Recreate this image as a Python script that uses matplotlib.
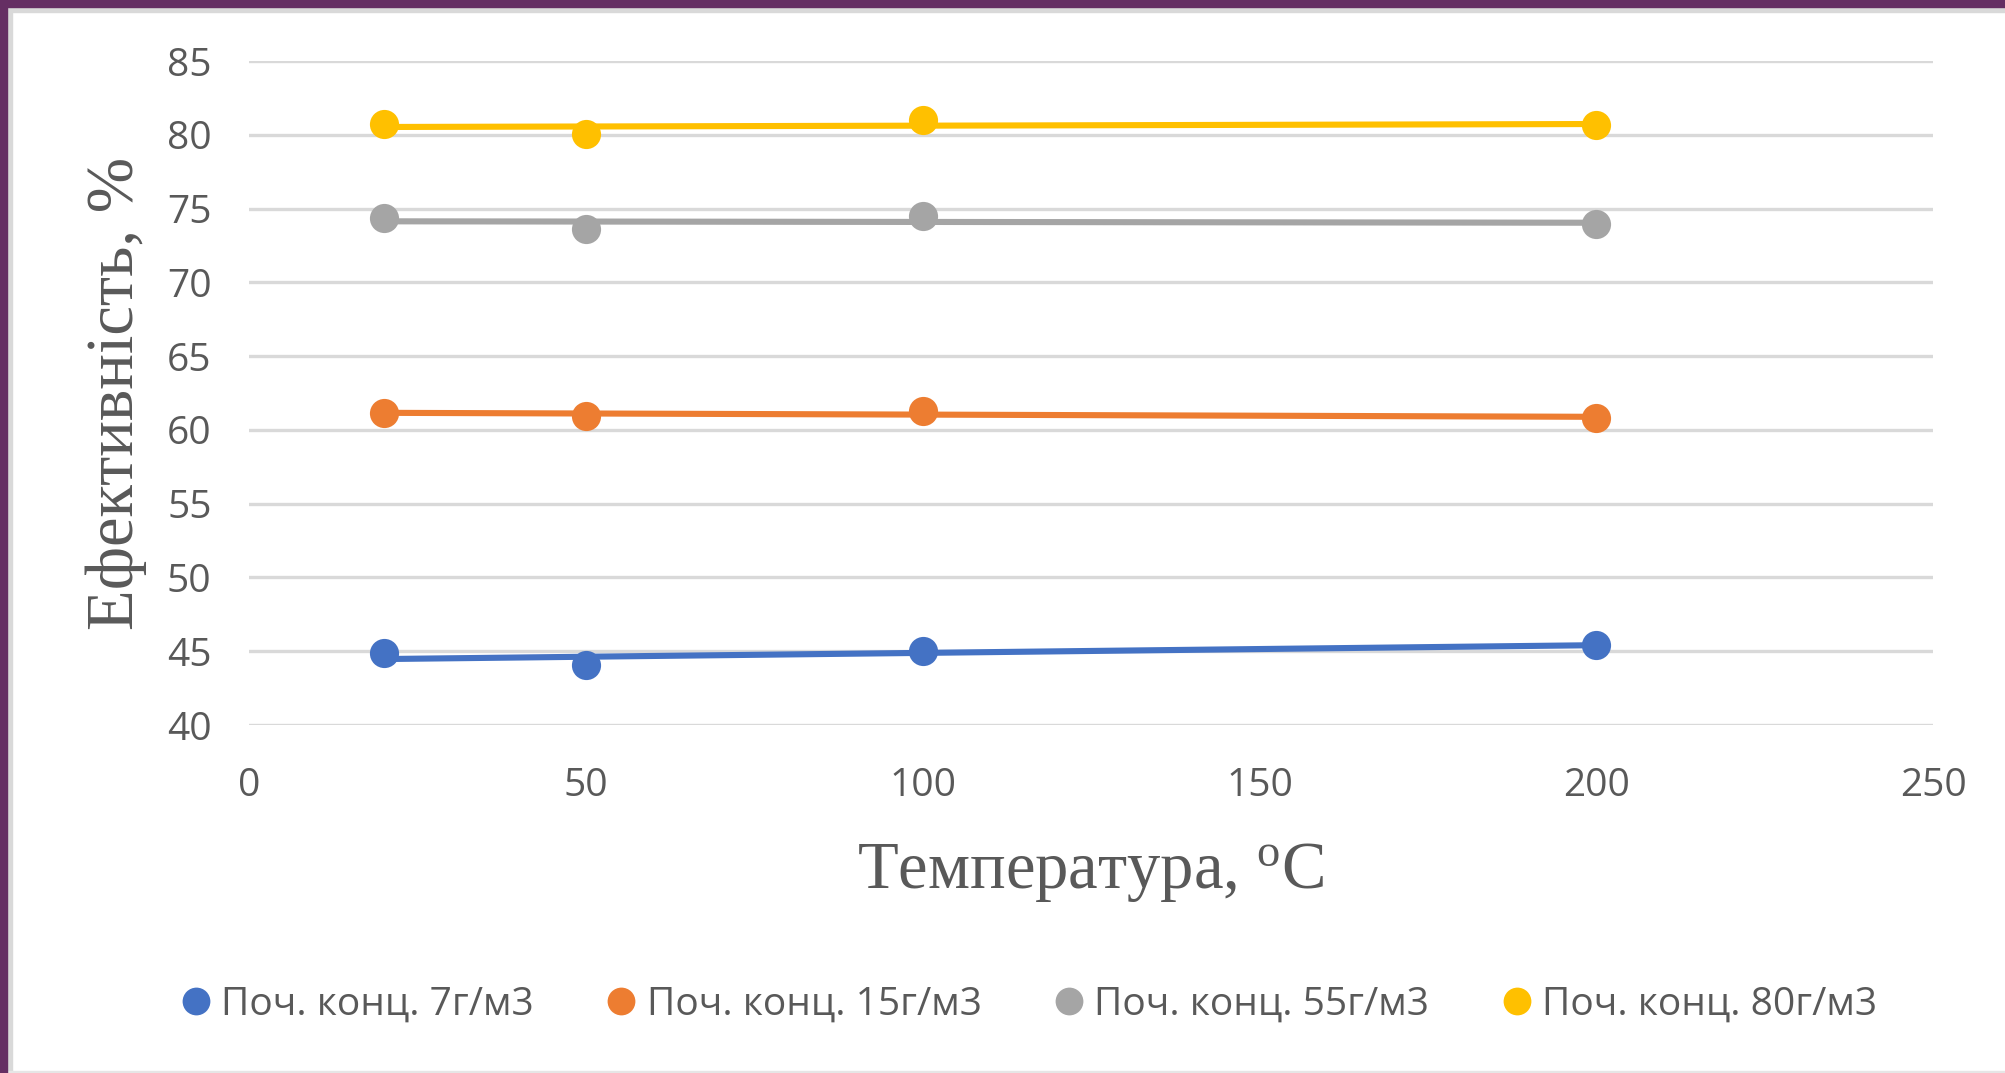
import numpy as np
import matplotlib
matplotlib.use("Agg")
import matplotlib.pyplot as plt
from matplotlib.lines import Line2D
from matplotlib.patches import Rectangle

# температура, °C
temps = [20, 50, 100, 200]

# ефективність для різних початкових концентрацій, %
eff_7 = [44.85, 44.1, 45.0, 45.45]
eff_15 = [61.15, 60.95, 61.3, 60.8]
eff_55 = [74.35, 73.6, 74.5, 73.95]
eff_80 = [80.75, 80.05, 81.0, 80.65]

labels = ["Поч. конц. 7г/м3", "Поч. конц. 15г/м3", "Поч. конц. 55г/м3", "Поч. конц. 80г/м3"]
colors = ["#4472C4", "#ED7D31", "#A5A5A5", "#FFC000"]

x_ticks = [0, 50, 100, 150, 200, 250]
y_ticks = [40, 45, 50, 55, 60, 65, 70, 75, 80, 85]

sans = ["Open Sans", "DejaVu Sans"]
serif = ["Liberation Serif", "DejaVu Serif"]
txt_color = "#595959"

fig = plt.figure(figsize=(20.05, 10.73), dpi=100)
ax = fig.add_axes([0.1242, 0.3243, 0.8399, 0.6188])

series = [eff_7, eff_15, eff_55, eff_80]
for vals, col in zip(series, colors):
    # лінійний тренд по точках
    k, b = np.polyfit(temps, vals, 1)
    xs = np.array([min(temps), max(temps)])
    ax.plot(xs, k * xs + b, color=col, lw=4.4, solid_capstyle="butt", zorder=3)
    ax.plot(temps, vals, "o", color=col, ms=21, mew=0, zorder=4)

ax.set_xlim(0, 250)
ax.set_ylim(40, 85)
ax.set_xticks(x_ticks)
ax.set_yticks(y_ticks)
ax.grid(axis="y", color="#D9D9D9", lw=2.4, zorder=1)
ax.set_axisbelow(True)
for s in ax.spines.values():
    s.set_visible(False)
ax.tick_params(length=0, labelsize=28, labelcolor=txt_color)
ax.tick_params(axis="x", pad=30)
ax.tick_params(axis="y", pad=27)
for lbl in ax.get_xticklabels() + ax.get_yticklabels():
    lbl.set_family(sans)

ax.set_xlabel("Температура, $\\mathregular{^o}$С", family=serif, fontsize=48,
              color=txt_color, labelpad=26)
ax.set_ylabel("Ефективність, %", family=serif, fontsize=48, color=txt_color, labelpad=14)

handles = [Line2D([], [], ls="none", marker="o", ms=20, mew=0, color=c) for c in colors]
fig.legend(handles, labels, loc="center", bbox_to_anchor=(0.513, 0.064), ncol=4,
           frameon=False, prop={"family": sans, "size": 28}, labelcolor=txt_color,
           handletextpad=0.25, columnspacing=1.85, handlelength=0.8)

# рамка
fig.patches.append(Rectangle((0, 1 - 7 / 1073), 1, 7 / 1073, transform=fig.transFigure,
                             color="#652E63", zorder=10))
fig.patches.append(Rectangle((0, 0), 7 / 2005, 1, transform=fig.transFigure,
                             color="#652E63", zorder=10))
fig.patches.append(Rectangle((7 / 2005, 1 - 12 / 1073), 1, 5 / 1073, transform=fig.transFigure,
                             color="#D9D9D9", zorder=9))
fig.patches.append(Rectangle((7 / 2005, 0), 5 / 2005, 1 - 7 / 1073, transform=fig.transFigure,
                             color="#D9D9D9", zorder=9))
fig.patches.append(Rectangle((0, 0), 1, 2 / 1073, transform=fig.transFigure,
                             color="#E6E6E6", zorder=9))

fig.savefig("out.png", dpi=100, facecolor="white")
